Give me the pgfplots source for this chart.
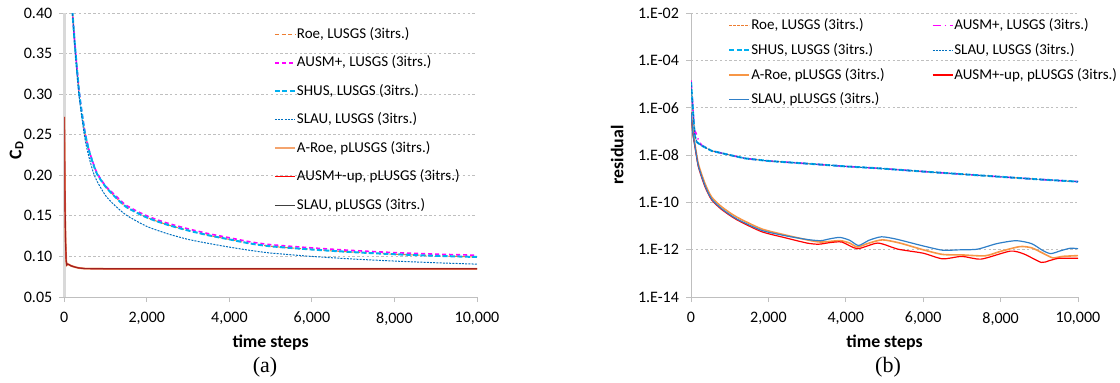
\documentclass[border=0pt]{standalone}
\usepackage{pgfplots}
\pgfplotsset{compat=1.18}
\usepackage{fontspec}
\setmainfont{Carlito}
\newfontfamily\capfont{Liberation Serif}
\definecolor{roe}{HTML}{ED7D31}
\definecolor{ausm}{HTML}{FF00FF}
\definecolor{shus}{HTML}{00B0F0}
\definecolor{slau}{HTML}{0070C0}
\definecolor{aroeL}{HTML}{F4A46E}
\definecolor{aroeR}{HTML}{F79646}
\definecolor{ausmup}{HTML}{FF0000}
\definecolor{slaupL}{HTML}{404040}
\definecolor{slaupR}{HTML}{2F7FC8}
\definecolor{gridc}{HTML}{BFBFBF}

\pgfplotsset{
  base/.style={
    scale only axis,
    xmin=0, xmax=10000,
    xtick={0,2000,4000,6000,8000,10000},
    scaled x ticks=false,
    /pgf/number format/assume math mode=true,
    xticklabel style={/pgf/number format/1000 sep={,}, font=\fontsize{8}{9}\selectfont, yshift=-1.5pt},
    yticklabel style={font=\fontsize{8}{9}\selectfont},
    axis lines=left,
    axis line style={-, draw=gridc, line width=0.5pt},
    tick align=outside,
    major tick length=2.5pt,
    tick style={draw=gridc, line width=0.5pt},
    ymajorgrids,
    grid style={draw=gridc, dash pattern=on 1.2pt off 1.2pt, line width=0.4pt},
    legend image code/.code={\draw[#1] (0pt,0pt) -- (10pt,0pt);},
    legend cell align=left,
    label style={font=\bfseries\fontsize{8.9}{10}\selectfont},
  }
}

\begin{document}
\begin{tikzpicture}
\useasboundingbox (0,0) rectangle (560pt,191pt);

% ---------------- (a) ----------------
\begin{axis}[base,
  at={(32.15pt,42.5pt)}, anchor=south west,
  width=206.35pt, height=142pt,
  ymin=0.05, ymax=0.40,
  ytick={0.05,0.10,0.15,0.20,0.25,0.30,0.35,0.40},
  yticklabel style={/pgf/number format/fixed, /pgf/number format/fixed zerofill, /pgf/number format/precision=2},
  y axis line style={draw=black!15, line width=1.5pt},
  xlabel={time steps},
  xlabel style={at={(axis description cs:0.5,-0.16)}, anchor=center},
  ylabel={C\textsubscript{D}},
  ylabel style={at={(axis description cs:-0.116,0.518)}, anchor=center},
  legend style={draw=none, fill=none, inner sep=0pt, outer sep=0pt,
    at={(axis description cs:0.508,0.957)}, anchor=north west,
    font=\fontsize{7.5}{9}\selectfont,
    row sep=5.25pt,
    nodes={inner sep=0.5pt, text height=6pt, text depth=2pt}},
]
\addlegendimage{roe, line width=0.5pt, dash pattern=on 2pt off 1.3pt}
\addlegendentry{Roe, LUSGS (3itrs.)}
\addlegendimage{ausm, line width=0.8pt, dash pattern=on 2pt off 1.5pt}
\addlegendentry{AUSM+, LUSGS (3itrs.)}
\addlegendimage{shus, line width=1pt, dash pattern=on 2.5pt off 1.2pt}
\addlegendentry{SHUS, LUSGS (3itrs.)}
\addlegendimage{slau, line width=0.5pt, dash pattern=on 1pt off 0.6pt}
\addlegendentry{SLAU, LUSGS (3itrs.)}
\addlegendimage{aroeL, line width=1pt}
\addlegendentry{A-Roe, pLUSGS (3itrs.)}
\addlegendimage{ausmup, line width=0.6pt}
\addlegendentry{AUSM+-up, pLUSGS (3itrs.)}
\addlegendimage{slaupL, line width=0.5pt}
\addlegendentry{SLAU, pLUSGS (3itrs.)}

\addplot[forget plot, roe, line width=0.5pt, dash pattern=on 2pt off 1.3pt, smooth, tension=0.4] coordinates {
(170,0.430)(200,0.400)(250,0.365)(300,0.335)(364,0.300)(430,0.275)(500,0.252)(600,0.230)(700,0.214)(800,0.201)(1000,0.186)(1200,0.175)(1500,0.161)(2000,0.148)(2500,0.139)(3000,0.132)(3500,0.126)(4000,0.121)(4500,0.116)(5000,0.1125)(6000,0.1085)(7000,0.1053)(8000,0.1027)(9000,0.1008)(10000,0.0993)};
\addplot[forget plot, ausm, line width=0.8pt, dash pattern=on 2pt off 1.5pt, smooth, tension=0.4] coordinates {
(170,0.430)(200,0.400)(250,0.366)(300,0.336)(364,0.301)(430,0.276)(500,0.253)(600,0.231)(700,0.215)(800,0.202)(1000,0.187)(1200,0.177)(1500,0.163)(2000,0.150)(2500,0.141)(3000,0.134)(3500,0.128)(4000,0.123)(4500,0.118)(5000,0.1145)(6000,0.1105)(7000,0.1073)(8000,0.1047)(9000,0.1028)(10000,0.1015)};
\addplot[forget plot, shus, line width=1pt, dash pattern=on 2.5pt off 1.2pt, smooth, tension=0.4] coordinates {
(170,0.430)(200,0.400)(250,0.365)(300,0.335)(364,0.300)(430,0.275)(500,0.252)(600,0.230)(700,0.214)(800,0.201)(1000,0.186)(1200,0.175)(1500,0.161)(2000,0.148)(2500,0.139)(3000,0.132)(3500,0.126)(4000,0.121)(4500,0.116)(5000,0.1125)(6000,0.1085)(7000,0.1053)(8000,0.1027)(9000,0.1008)(10000,0.0993)};
\addplot[forget plot, slau, line width=0.5pt, dash pattern=on 1pt off 0.6pt, smooth, tension=0.4] coordinates {
(170,0.430)(200,0.400)(250,0.362)(300,0.330)(364,0.295)(500,0.245)(600,0.222)(700,0.204)(800,0.192)(1000,0.175)(1200,0.164)(1500,0.151)(2000,0.137)(2500,0.128)(3000,0.121)(3500,0.116)(4000,0.1115)(4500,0.1075)(5000,0.1042)(6000,0.1000)(7000,0.0968)(8000,0.0943)(9000,0.0922)(10000,0.0905)};
\addplot[forget plot, aroeL, line width=1pt] coordinates {
(0,0.272)(8,0.220)(18,0.160)(30,0.120)(45,0.095)(60,0.0895)(80,0.0905)(110,0.0900)(160,0.0885)(250,0.0870)(350,0.0858)(500,0.0850)(1000,0.0848)(10000,0.0848)};
\addplot[forget plot, ausmup, line width=0.6pt] coordinates {
(0,0.272)(8,0.220)(18,0.160)(30,0.120)(45,0.095)(60,0.0895)(80,0.0905)(110,0.0900)(160,0.0885)(250,0.0870)(350,0.0858)(500,0.0850)(1000,0.0848)(10000,0.0848)};
\addplot[forget plot, slaupL, line width=0.6pt, opacity=0.5] coordinates {
(0,0.272)(8,0.220)(18,0.160)(30,0.120)(45,0.095)(60,0.0895)(80,0.0905)(110,0.0900)(160,0.0885)(250,0.0870)(350,0.0858)(500,0.0850)(1000,0.0848)(10000,0.0848)};
\end{axis}

% ---------------- (b) ----------------
\begin{axis}[base,
  at={(345.5pt,42.5pt)}, anchor=south west,
  width=193.5pt, height=142pt,
  ymode=log, ymin=1e-14, ymax=1e-2,
  ytick={1e-14,1e-12,1e-10,1e-8,1e-6,1e-4,1e-2},
  yticklabels={1.E-14,1.E-12,1.E-10,1.E-08,1.E-06,1.E-04,1.E-02},
  yminorticks=false,
  xlabel={time steps},
  xlabel style={at={(axis description cs:0.5,-0.16)}, anchor=center},
  ylabel={residual},
  ylabel style={at={(axis description cs:-0.191,0.5)}, anchor=center},
  legend columns=2,
  legend style={draw=none, fill=none, inner sep=0pt, outer sep=0pt,
    at={(axis description cs:0.0964,0.987)}, anchor=north west,
    font=\fontsize{7.5}{9}\selectfont,
    row sep=3.35pt,
    nodes={inner sep=0.5pt, text height=6pt, text depth=2pt}},
  legend cell align=left,
]
\addlegendimage{draw=roe, line width=0.5pt, dash pattern=on 1.2pt off 0.8pt}
\addlegendentry{Roe, LUSGS (3itrs.)}
\addlegendimage{draw=ausm, line width=0.8pt, dash pattern=on 4pt off 2pt on 0.6pt off 2pt}
\addlegendentry{AUSM+, LUSGS (3itrs.)}
\addlegendimage{draw=shus, line width=1pt, dash pattern=on 2.5pt off 1.2pt}
\addlegendentry{SHUS, LUSGS (3itrs.)}
\addlegendimage{draw=slau, line width=0.5pt, dash pattern=on 1pt off 0.6pt}
\addlegendentry{SLAU, LUSGS (3itrs.)}
\addlegendimage{draw=aroeR, line width=1pt}
\addlegendentry{A-Roe, pLUSGS (3itrs.)\hspace*{23pt}}
\addlegendimage{draw=ausmup, line width=0.8pt}
\addlegendentry{AUSM+-up, pLUSGS (3itrs.)}
\addlegendimage{draw=slaupR, line width=0.7pt}
\addlegendentry{SLAU, pLUSGS (3itrs.)}

\addplot[forget plot, roe, line width=0.5pt, dash pattern=on 1.2pt off 0.8pt] coordinates {
(0,1.4e-5)(40,1.5e-6)(70,2.5e-7)(100,6.3e-8)(150,3.5e-8)(275,2.5e-8)(533,1.5e-8)(1000,1.0e-8)(1394,7.2e-9)(2000,5.6e-9)(3114,4.2e-9)(4000,3.3e-9)(4836,2.75e-9)(6000,2.0e-9)(7000,1.55e-9)(8000,1.2e-9)(9000,9.3e-10)(10000,7.5e-10)};
\addplot[forget plot, ausm, line width=0.8pt, dash pattern=on 4pt off 2pt on 0.6pt off 2pt] coordinates {
(0,1.4e-5)(40,1.6e-6)(80,1.5e-7)(100,7e-8)(120,9e-8)(150,7e-8)(200,3.8e-8)(275,2.6e-8)(533,1.5e-8)(1000,1.0e-8)(1394,7.2e-9)(2000,5.6e-9)(3114,4.2e-9)(4000,3.3e-9)(4836,2.75e-9)(6000,2.0e-9)(7000,1.55e-9)(8000,1.2e-9)(9000,9.3e-10)(10000,7.5e-10)};
\addplot[forget plot, shus, line width=1pt, dash pattern=on 2.5pt off 1.2pt] coordinates {
(0,1.2e-5)(40,1.5e-6)(70,2.5e-7)(100,6.3e-8)(150,3.5e-8)(275,2.5e-8)(533,1.5e-8)(1000,1.0e-8)(1394,7.2e-9)(2000,5.6e-9)(3114,4.2e-9)(4000,3.3e-9)(4836,2.75e-9)(6000,2.0e-9)(7000,1.55e-9)(8000,1.2e-9)(9000,9.3e-10)(10000,7.5e-10)};
\addplot[forget plot, slau, line width=0.5pt, dash pattern=on 1pt off 0.6pt] coordinates {
(0,1.2e-5)(40,1.5e-6)(70,2.5e-7)(100,6.3e-8)(150,3.5e-8)(275,2.5e-8)(533,1.5e-8)(1000,1.0e-8)(1394,7.2e-9)(2000,5.6e-9)(3114,4.2e-9)(4000,3.3e-9)(4836,2.75e-9)(6000,2.0e-9)(7000,1.55e-9)(8000,1.2e-9)(9000,9.3e-10)(10000,7.5e-10)};
\addplot[forget plot, aroeR, line width=0.8pt, smooth, tension=0.4] coordinates {
(0,6.3e-7)(50,9e-8)(100,3e-8)(190,4.2e-9)(360,6.3e-10)(530,1.7e-10)(790,6.5e-11)(1180,2.4e-11)(1820,7.6e-12)(2430,4.2e-12)(3000,2.6e-12)(3350,2.1e-12)(3850,2.4e-12)(4100,1.9e-12)(4300,1.3e-12)(4600,1.9e-12)(4950,2.6e-12)(5400,1.9e-12)(5990,1.0e-12)(6500,6.3e-13)(7000,6.0e-13)(7600,5.5e-13)(8000,8.5e-13)(8500,1.35e-12)(8800,1.2e-12)(9100,7e-13)(9350,4.5e-13)(9600,5.2e-13)(10000,5.6e-13)};
\addplot[forget plot, ausmup, line width=0.6pt, smooth, tension=0.4] coordinates {
(0,6.3e-7)(50,7.5e-8)(100,2.3e-8)(190,3.2e-9)(360,4.6e-10)(530,1.3e-10)(790,5.0e-11)(1180,1.85e-11)(1820,5.8e-12)(2430,3.2e-12)(3000,1.9e-12)(3300,1.7e-12)(3600,2.0e-12)(3900,2.1e-12)(4300,1.1e-12)(4830,1.9e-12)(5350,1.05e-12)(6000,7.1e-13)(6500,4.1e-13)(7000,5.2e-13)(7500,4.0e-13)(8250,8.7e-13)(8600,6.6e-13)(9050,2.9e-13)(9250,3.4e-13)(9500,4.3e-13)(10000,4.3e-13)};
\addplot[forget plot, slaupR, line width=0.6pt, smooth, tension=0.4] coordinates {
(0,6.3e-7)(50,8e-8)(100,2.5e-8)(190,3.5e-9)(360,5.1e-10)(530,1.4e-10)(790,5.4e-11)(1180,2.0e-11)(1820,6.6e-12)(2430,3.9e-12)(3000,2.7e-12)(3350,2.4e-12)(3600,2.9e-12)(3850,3.3e-12)(4100,2.5e-12)(4330,1.5e-12)(4600,2.5e-12)(4920,3.5e-12)(5300,2.8e-12)(5990,1.45e-12)(6500,9.5e-13)(6900,9.8e-13)(7400,1.05e-12)(7900,1.8e-12)(8400,2.4e-12)(8800,1.8e-12)(9100,9e-13)(9300,6.8e-13)(9550,9e-13)(9800,1.15e-12)(10000,1.1e-12)};
\end{axis}

\node[font=\capfont\fontsize{11}{13}\selectfont] at (132.5pt,7.5pt) {(a)};
\node[font=\capfont\fontsize{11}{13}\selectfont] at (444pt,7.5pt) {(b)};
\end{tikzpicture}
\end{document}
